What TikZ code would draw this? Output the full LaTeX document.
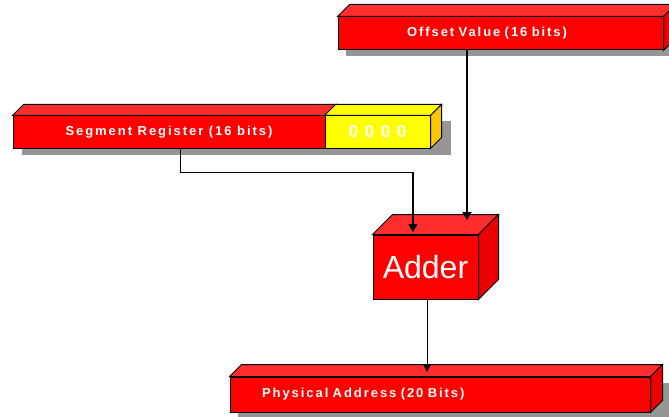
\documentclass[tikz,border=0pt]{standalone}
\usepackage{fontspec}
\setmainfont{Liberation Sans}
\newfontfamily\pixfont[LetterSpace=15]{Liberation Sans}
\newfontfamily\digitfont[LetterSpace=11]{Liberation Sans}
\usetikzlibrary{positioning, arrows.meta, calc, backgrounds}

\definecolor{boxred}{RGB}{255,0,0}
\definecolor{boxredtop}{RGB}{255,45,45}
\definecolor{boxredside}{RGB}{235,0,0}
\definecolor{boxyellow}{RGB}{255,255,0}
\definecolor{boxyellowside}{RGB}{250,200,0}
\definecolor{dropgray}{RGB}{150,150,150}

% top and side faces of a box whose front face is node #1, depth #2
\newcommand{\slabtop}[3]{%
  \filldraw[fill=#3] (#1.north west) -- ++(#2,-#2) -- ([shift={(#2,-#2)}]#1.north east) -- (#1.north east) -- cycle;}
\newcommand{\slabside}[3]{%
  \filldraw[fill=#3] (#1.north east) -- ++(#2,-#2) -- ([shift={(#2,-#2)}]#1.south east) -- (#1.south east) -- cycle;}

\begin{document}
\begin{tikzpicture}[
    x=1pt, y=-1pt,
    line width=1pt,
    front/.style={draw, fill=boxred, inner sep=0pt, text=white,
        font=\pixfont\bfseries\fontsize{13}{14}\selectfont},
    wire/.style={line width=1pt},
    feed/.style={line width=2.2pt, -{Triangle[length=8pt, width=9pt]}},
    thinfeed/.style={line width=1pt, -{Triangle[length=7pt, width=7pt]}}
]
    \useasboundingbox (0,0) rectangle (669,417);

    % front faces
    \node[front, minimum width=325pt, minimum height=33pt, text width=187pt, align=left] (off) at (500.5,33.5) {Offset Value (16 bits)};
    \node[front, minimum width=312pt, minimum height=32pt] (seg) at (169,132) {Segment Register (16 bits)};
    \node[front, fill=boxyellow, minimum width=105pt, minimum height=32pt,
          font=\digitfont\bfseries\fontsize{17}{18}\selectfont] (zero) at (377.5,132) {0 0 0 0};
    \node[front, minimum width=105pt, minimum height=64pt,
          font=\fontsize{32}{34}\selectfont] (adder) at (425.5,267) {Adder};
    \node[front, minimum width=420pt, minimum height=35pt, text width=356pt, align=left] (phys) at (440,394.5) {Physical Address (20 Bits)};

    % drop shadows
    \begin{scope}[on background layer]
        \fill[dropgray] ([shift={(8,6)}]off.north west) rectangle ([shift={(20,6)}]off.south east);
        \fill[dropgray] ([shift={(9,6)}]seg.north west) rectangle ([shift={(20,6)}]zero.south east);
        \fill[dropgray] ([shift={(8,6)}]phys.north west) rectangle ([shift={(20,6)}]phys.south east);
    \end{scope}

    % 3d faces
    \slabtop{off}{12}{boxredtop}
    \slabside{off}{12}{boxredside}
    \slabtop{seg}{11}{boxredtop}
    \slabtop{zero}{11}{boxyellow}
    \slabside{zero}{11}{boxyellowside}
    \slabtop{adder}{20}{boxredtop}
    \slabside{adder}{20}{boxredside}
    \slabtop{phys}{12}{boxredtop}
    \slabside{phys}{12}{boxredside}

    % connectors
    \coordinate (kink) at (413,172);
    \coordinate (addinA) at (413,232);
    \coordinate (addinB) at (467,220);
    \coordinate (physin) at (427,372);

    \draw[wire] ([xshift=11pt]seg.south) |- (kink);
    \draw[feed] (kink) -- (addinA);
    \draw[feed] ([xshift=-33.5pt]off.south) -- (addinB);
    \draw[thinfeed] ([xshift=1.5pt]adder.south) -- (physin);
\end{tikzpicture}
\end{document}
